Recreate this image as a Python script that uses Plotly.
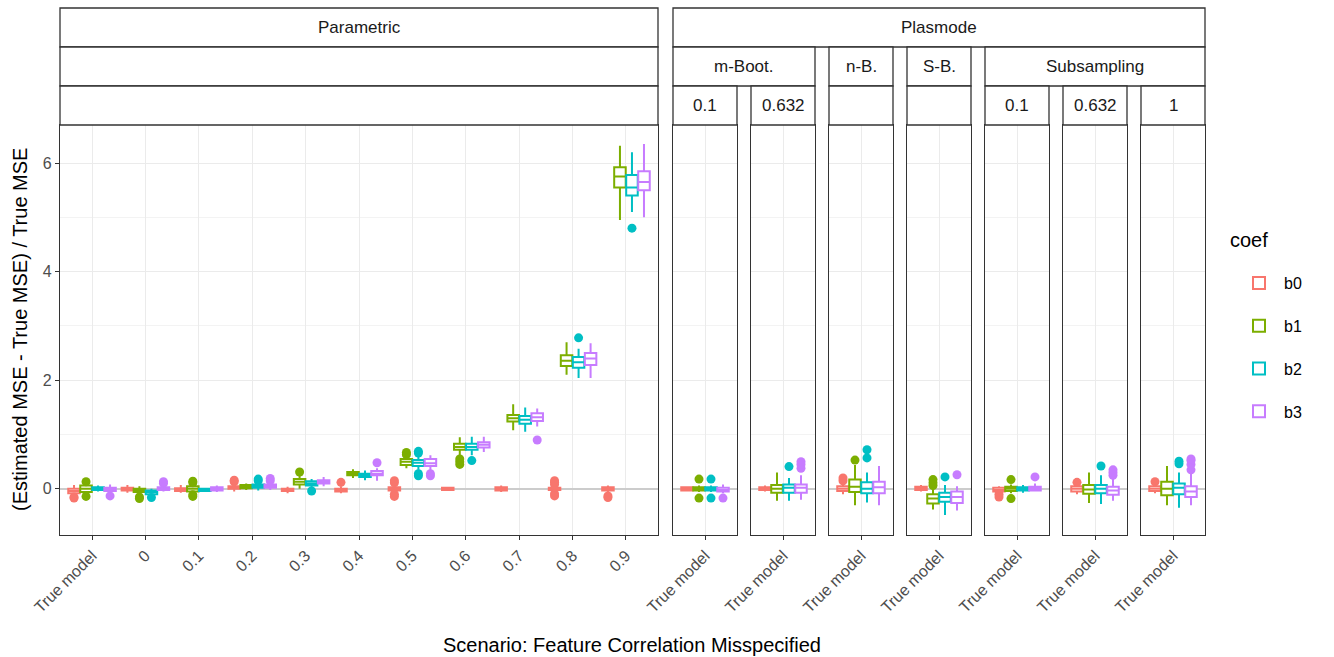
import plotly.graph_objects as go

# ---------------- data ----------------
coefs = ["b0", "b1", "b2", "b3"]
coef_colors = ["#F8766D", "#7CAE00", "#00BFC4", "#C77CFF"]

param_categories = ["True model", "0", "0.1", "0.2", "0.3", "0.4", "0.5", "0.6", "0.7", "0.8", "0.9"]
plasmode_category = "True model"
plasmode_method = ["m-Boot.", "m-Boot.", "n-B.", "S-B.", "Subsampling", "Subsampling", "Subsampling"]
plasmode_fraction = ["0.1", "0.632", "", "", "0.1", "0.632", "1"]

# Parametric panel: box statistics per coefficient (one value per category)
param_b0_low = [-0.10, -0.07, -0.07, -0.05, -0.08, -0.08, -0.07, -0.04, -0.06, -0.06, -0.07]
param_b0_q1 = [-0.08, -0.03, -0.04, 0.00, -0.04, -0.05, -0.03, -0.02, -0.03, -0.02, -0.03]
param_b0_med = [-0.04, 0.00, -0.01, 0.02, -0.02, -0.02, 0.00, 0.00, 0.00, 0.00, 0.00]
param_b0_q3 = [0.00, 0.02, 0.01, 0.05, 0.00, 0.00, 0.03, 0.02, 0.03, 0.02, 0.03]
param_b0_high = [0.07, 0.07, 0.07, 0.10, 0.04, 0.05, 0.07, 0.04, 0.06, 0.06, 0.06]
param_b0_out = [[-0.15, -0.17], [], [], [0.13, 0.16], [], [0.12], [0.11, 0.15, -0.10, -0.14],
                [], [], [0.08, 0.12, 0.15, -0.09, -0.13], [-0.13, -0.16]]

param_b1_low = [-0.10, -0.10, -0.08, -0.02, 0.00, 0.20, 0.38, 0.62, 1.08, 2.10, 4.95]
param_b1_q1 = [-0.06, -0.06, -0.05, 0.01, 0.08, 0.25, 0.44, 0.72, 1.24, 2.26, 5.55]
param_b1_med = [0.00, -0.03, 0.00, 0.04, 0.13, 0.28, 0.50, 0.77, 1.30, 2.36, 5.75]
param_b1_q3 = [0.06, 0.00, 0.05, 0.07, 0.18, 0.31, 0.55, 0.83, 1.36, 2.46, 5.92]
param_b1_high = [0.10, 0.05, 0.08, 0.10, 0.25, 0.36, 0.60, 0.95, 1.56, 2.70, 6.32]
param_b1_out = [[0.13, -0.14], [-0.15, -0.18], [0.11, 0.14, -0.11, -0.14], [], [0.31], [],
                [0.63, 0.67], [0.45, 0.50, 0.55], [], [], []]

param_b2_low = [-0.05, -0.12, -0.06, -0.03, 0.03, 0.16, 0.35, 0.62, 1.05, 2.04, 5.10]
param_b2_q1 = [-0.02, -0.10, -0.04, 0.02, 0.06, 0.22, 0.42, 0.72, 1.20, 2.23, 5.40]
param_b2_med = [0.00, -0.06, -0.02, 0.05, 0.10, 0.25, 0.48, 0.77, 1.27, 2.33, 5.55]
param_b2_q3 = [0.03, -0.03, 0.00, 0.08, 0.14, 0.28, 0.53, 0.83, 1.34, 2.43, 5.78]
param_b2_high = [0.06, 0.00, 0.02, 0.12, 0.18, 0.34, 0.60, 0.96, 1.50, 2.58, 6.20]
param_b2_out = [[], [-0.16], [], [0.15, 0.18], [-0.04], [], [0.66, 0.69, 0.24, 0.28],
                [0.52], [], [2.78], [4.80]]

param_b3_low = [-0.06, -0.05, -0.06, -0.02, 0.05, 0.15, 0.32, 0.68, 1.15, 2.04, 5.00]
param_b3_q1 = [-0.04, -0.02, -0.03, 0.02, 0.10, 0.25, 0.42, 0.76, 1.25, 2.28, 5.50]
param_b3_med = [-0.01, 0.00, 0.00, 0.05, 0.13, 0.28, 0.47, 0.81, 1.32, 2.40, 5.65]
param_b3_q3 = [0.02, 0.03, 0.03, 0.08, 0.16, 0.33, 0.55, 0.86, 1.39, 2.50, 5.85]
param_b3_high = [0.08, 0.06, 0.06, 0.12, 0.22, 0.38, 0.62, 0.96, 1.48, 2.68, 6.35]
param_b3_out = [[-0.13], [0.10, 0.13], [], [0.15, 0.19], [], [0.48], [0.24, 0.28], [], [0.90], [], []]

# Plasmode panels (one "True model" category each), in panel order
plas_b0_low = [-0.05, -0.05, -0.10, -0.05, -0.08, -0.10, -0.08]
plas_b0_q1 = [-0.03, -0.02, -0.04, -0.02, -0.05, -0.05, -0.04]
plas_b0_med = [0.00, 0.00, 0.00, 0.01, -0.02, 0.00, 0.00]
plas_b0_q3 = [0.03, 0.03, 0.05, 0.04, 0.02, 0.05, 0.05]
plas_b0_high = [0.05, 0.06, 0.10, 0.07, 0.05, 0.10, 0.10]
plas_b0_out = [[], [], [0.15, 0.20], [], [-0.10, -0.15], [0.12], [0.13]]

plas_b1_low = [-0.06, -0.22, -0.30, -0.38, -0.08, -0.26, -0.30]
plas_b1_q1 = [-0.03, -0.07, -0.06, -0.27, -0.04, -0.09, -0.12]
plas_b1_med = [0.00, 0.00, 0.04, -0.18, 0.00, -0.01, 0.00]
plas_b1_q3 = [0.03, 0.07, 0.17, -0.10, 0.04, 0.07, 0.13]
plas_b1_high = [0.06, 0.30, 0.44, 0.00, 0.08, 0.30, 0.42]
plas_b1_out = [[0.18, -0.17], [], [0.53], [0.06, 0.11, 0.17], [0.17, -0.18], [], []]

plas_b2_low = [-0.06, -0.22, -0.25, -0.48, -0.07, -0.28, -0.35]
plas_b2_q1 = [-0.03, -0.07, -0.08, -0.24, -0.03, -0.08, -0.10]
plas_b2_med = [0.00, 0.02, 0.00, -0.15, 0.00, 0.00, 0.02]
plas_b2_q3 = [0.03, 0.08, 0.12, -0.07, 0.03, 0.07, 0.10]
plas_b2_high = [0.06, 0.20, 0.30, 0.07, 0.07, 0.25, 0.30]
plas_b2_out = [[0.18, -0.17], [0.41], [0.57, 0.72], [0.22], [], [0.42], [0.46, 0.51]]

plas_b3_low = [-0.08, -0.20, -0.30, -0.40, -0.05, -0.22, -0.30]
plas_b3_q1 = [-0.05, -0.07, -0.08, -0.26, -0.03, -0.11, -0.15]
plas_b3_med = [-0.02, 0.02, 0.03, -0.15, 0.00, -0.03, -0.05]
plas_b3_q3 = [0.02, 0.08, 0.13, -0.05, 0.04, 0.04, 0.05]
plas_b3_high = [0.08, 0.25, 0.42, 0.05, 0.10, 0.22, 0.30]
plas_b3_out = [[-0.17], [0.38, 0.45, 0.50], [], [0.26], [0.22], [0.25, 0.30, 0.35],
               [0.35, 0.45, 0.52, 0.55]]

param_stats = {
    "b0": (param_b0_low, param_b0_q1, param_b0_med, param_b0_q3, param_b0_high, param_b0_out),
    "b1": (param_b1_low, param_b1_q1, param_b1_med, param_b1_q3, param_b1_high, param_b1_out),
    "b2": (param_b2_low, param_b2_q1, param_b2_med, param_b2_q3, param_b2_high, param_b2_out),
    "b3": (param_b3_low, param_b3_q1, param_b3_med, param_b3_q3, param_b3_high, param_b3_out),
}
plas_stats = {
    "b0": (plas_b0_low, plas_b0_q1, plas_b0_med, plas_b0_q3, plas_b0_high, plas_b0_out),
    "b1": (plas_b1_low, plas_b1_q1, plas_b1_med, plas_b1_q3, plas_b1_high, plas_b1_out),
    "b2": (plas_b2_low, plas_b2_q1, plas_b2_med, plas_b2_q3, plas_b2_high, plas_b2_out),
    "b3": (plas_b3_low, plas_b3_q1, plas_b3_med, plas_b3_q3, plas_b3_high, plas_b3_out),
}

# ---------------- layout geometry (pixels) ----------------
W, H = 1334, 657
FONT = "Liberation Sans, Arial, sans-serif"
BORDER = "#333333"
param_px = (60, 658)
plas_px = [(673, 737), (751, 815), (829, 893), (907, 971), (985, 1049), (1063, 1127), (1141, 1205)]
panel_top, panel_bot = 125, 535
strip_rows = [(8, 47), (47, 86), (86, 125)]
Y_RANGE = [-0.85, 6.70]
DODGE = 0.9
n_coef = len(coefs)
box_w = DODGE / n_coef


def fx(x):
    return x / W


def fy(y):
    return 1 - y / H


def offset(j):
    return (j - (n_coef - 1) / 2) * box_w


fig = go.Figure()

panels = [("x", "y", list(range(1, len(param_categories) + 1)), param_stats, None)]
for k in range(len(plas_px)):
    panels.append((f"x{k + 2}", f"y{k + 2}", [1], plas_stats, k))

for j, c in enumerate(coefs):
    col = coef_colors[j]
    for (xa, ya, cats, stats, k) in panels:
        low, q1, med, q3, high, out = stats[c]
        if k is not None:
            low, q1, med, q3, high, out = [low[k]], [q1[k]], [med[k]], [q3[k]], [high[k]], [out[k]]
        pos = [p + offset(j) for p in cats]
        fig.add_trace(go.Box(
            x=pos, q1=q1, median=med, q3=q3, lowerfence=low, upperfence=high,
            width=box_w * 0.96, whiskerwidth=0,
            line=dict(color=col, width=2), fillcolor="white",
            name=c, legendgroup=c, showlegend=(k is None),
            xaxis=xa, yaxis=ya, hoverinfo="skip",
        ))
        ox, oy = [], []
        for p, vals in zip(pos, out):
            for v in vals:
                ox.append(p)
                oy.append(v)
        if ox:
            fig.add_trace(go.Scatter(
                x=ox, y=oy, mode="markers",
                marker=dict(color=col, size=9, line=dict(width=0)),
                showlegend=False, legendgroup=c, xaxis=xa, yaxis=ya, hoverinfo="skip",
            ))

# ---------------- axes ----------------
ydom = [fy(panel_bot), fy(panel_top)]
common_x = dict(showline=True, mirror=True, linecolor=BORDER, linewidth=1.3,
                showgrid=True, gridcolor="#EBEBEB", gridwidth=1.3, zeroline=False,
                ticks="outside", ticklen=4, tickcolor=BORDER, tickwidth=1.2, automargin=False,
                tickangle=-45, tickfont=dict(family=FONT, size=16, color="#4D4D4D"))
common_y = dict(range=Y_RANGE, domain=ydom, showline=True, mirror=True, linecolor=BORDER,
                linewidth=1.3, showgrid=True, gridcolor="#EBEBEB", gridwidth=1.3, automargin=False,
                zeroline=True, zerolinecolor="#CCCCCC", zerolinewidth=1.8,
                tickvals=[0, 2, 4, 6],
                minor=dict(tickvals=[1, 3, 5], showgrid=True, gridcolor="#F3F3F3", gridwidth=1),
                tickfont=dict(family=FONT, size=16, color="#4D4D4D"))

layout_axes = {}
for idx, (xa, ya, cats, stats, k) in enumerate(panels):
    xname = "xaxis" if xa == "x" else "xaxis" + xa[1:]
    yname = "yaxis" if ya == "y" else "yaxis" + ya[1:]
    px = param_px if k is None else plas_px[k]
    labels = param_categories if k is None else [plasmode_category]
    layout_axes[xname] = dict(common_x, domain=[fx(px[0]), fx(px[1])], anchor=ya,
                              range=[0.4, len(cats) + 0.6], tickvals=cats, ticktext=labels)
    yd = dict(common_y, anchor=xa)
    if k is None:
        yd.update(ticks="outside", ticklen=4, tickcolor=BORDER, tickwidth=1.2, showticklabels=True)
    else:
        yd.update(ticks="", showticklabels=False, matches="y")
    layout_axes[yname] = yd

fig.update_layout(**layout_axes)

# ---------------- strips ----------------
shapes, annotations = [], []


def strip(x0, x1, row, text):
    y0, y1 = strip_rows[row]
    shapes.append(dict(type="rect", xref="paper", yref="paper", x0=fx(x0), x1=fx(x1),
                       y0=fy(y1), y1=fy(y0), line=dict(color=BORDER, width=1.3),
                       fillcolor="white", layer="above"))
    if text:
        annotations.append(dict(x=fx((x0 + x1) / 2), y=fy((y0 + y1) / 2), xref="paper", yref="paper",
                                text=text, showarrow=False, xanchor="center", yanchor="middle",
                                font=dict(family=FONT, size=17, color="#1A1A1A")))


strip(param_px[0], param_px[1], 0, "Parametric")
strip(param_px[0], param_px[1], 1, "")
strip(param_px[0], param_px[1], 2, "")
strip(plas_px[0][0], plas_px[-1][1], 0, "Plasmode")
# second strip row: group consecutive panels with the same method
k = 0
while k < len(plas_px):
    m = k
    while m + 1 < len(plas_px) and plasmode_method[m + 1] == plasmode_method[k]:
        m += 1
    strip(plas_px[k][0], plas_px[m][1], 1, plasmode_method[k])
    k = m + 1
for k, (x0, x1) in enumerate(plas_px):
    strip(x0, x1, 2, plasmode_fraction[k])

annotations.append(dict(x=fx(632), y=fy(645), xref="paper", yref="paper",
                        text="Scenario: Feature Correlation Misspecified", showarrow=False,
                        xanchor="center", yanchor="middle",
                        font=dict(family=FONT, size=20, color="black")))
annotations.append(dict(x=fx(20), y=fy((panel_top + panel_bot) / 2), xref="paper", yref="paper",
                        text="(Estimated MSE - True MSE) / True MSE", showarrow=False, textangle=-90,
                        xanchor="center", yanchor="middle",
                        font=dict(family=FONT, size=20, color="black")))
# legend title
annotations.append(dict(x=fx(1228), y=fy(240), xref="paper", yref="paper",
                        text="coef", showarrow=False, xanchor="left", yanchor="middle",
                        font=dict(family=FONT, size=20, color="black")))

fig.update_layout(
    width=W, height=H, margin=dict(l=0, r=0, t=0, b=0, autoexpand=False),
    paper_bgcolor="white", plot_bgcolor="white",
    boxmode="overlay",
    shapes=shapes, annotations=annotations,
    showlegend=True,
    legend=dict(x=fx(1234), y=fy(266), xanchor="left", yanchor="top",
                font=dict(family=FONT, size=16, color="black"),
                tracegroupgap=19, itemwidth=40, bgcolor="rgba(0,0,0,0)"),
    font=dict(family=FONT),
)

fig.write_html("out.html")
